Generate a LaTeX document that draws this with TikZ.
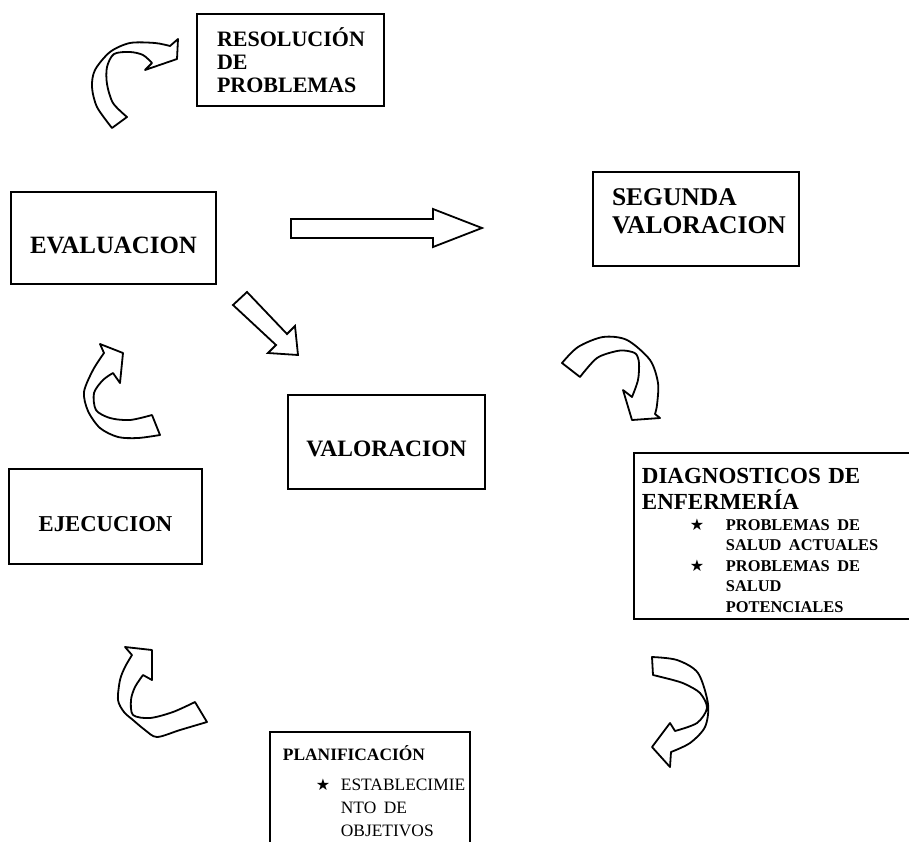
\documentclass[tikz,border=0pt]{standalone}
\usepackage{fontspec}
\setmainfont{Liberation Serif}
\newfontfamily\symfont{DejaVu Sans}
\newcommand{\staritem}[2]{\hspace*{#1}\makebox[\dimexpr#2-#1\relax][l]{\symfont\fontsize{16}{16}\selectfont ★}}

\begin{document}
\begin{tikzpicture}[
    x=1pt, y=-1pt,
    line width=1.8pt,
    box/.style={draw,inner sep=0pt,font=\bfseries\fontsize{22.5}{25}\selectfont},
    lbox/.style={box,align=left},
    blockarr/.style={draw,line join=miter,fill=white},
    curvarr/.style={draw,line join=round,fill=white}]
  \useasboundingbox (0,0) rectangle (909,841);
  \clip (0,0) rectangle (909,841);
  \node[lbox,inner xsep=20pt,text width=147pt,minimum height=92pt,font=\bfseries\fontsize{22}{23}\selectfont] at (290.5,60) (resol) {RESOLUCIÓN\\DE\\PROBLEMAS};
  \node[box,minimum width=205pt,minimum height=92pt,text height=31pt,text depth=0pt,font=\bfseries\fontsize{24.9}{26}\selectfont] at (113.5,238) (eval) {EVALUACION};
  \node[lbox,inner xsep=19pt,text width=168pt,minimum height=94pt,font=\bfseries\fontsize{25.5}{28}\selectfont] at (696,219) (segval) {SEGUNDA\\VALORACION\rule[-16pt]{0pt}{0pt}};
  \node[box,minimum width=197pt,minimum height=94pt,text height=28pt,text depth=0pt,font=\bfseries\fontsize{23.5}{25}\selectfont] at (386.5,442) (val) {VALORACION};
  \node[box,minimum width=193pt,minimum height=95pt,text height=29pt,text depth=0pt,font=\bfseries\fontsize{22.7}{25}\selectfont] at (105.5,516.5) (ejec) {EJECUCION};
  \node[box,anchor=north west,inner xsep=8pt,text width=300pt,minimum height=166pt] at (633,452) (diag) {\noindent\fontsize{16.4}{20.5}\selectfont
    \begin{tabular}{@{}l@{}}
      \rule{0pt}{30pt}\fontsize{23}{25}\selectfont DIAGNOSTICOS DE\\
      \fontsize{23}{25}\selectfont ENFERMERÍA\\
      \staritem{48pt}{84pt}PROBLEMAS DE\\
      \hspace*{84pt}SALUD ACTUALES\\
      \staritem{48pt}{84pt}PROBLEMAS DE\\
      \hspace*{84pt}SALUD\\
      \hspace*{84pt}POTENCIALES
    \end{tabular}};
  \node[box,anchor=north west,inner xsep=13pt,text width=174pt,minimum height=124pt] at (269,731) (plan) {\noindent\fontsize{17.4}{23}\selectfont
    \begin{tabular}{@{}l@{}}
      PLANIFICACIÓN\\[7pt]
      \mdseries\staritem{33pt}{58pt}ESTABLECIMIE\\
      \mdseries\hspace*{58pt}NTO DE\\
      \mdseries\hspace*{58pt}OBJETIVOS
    \end{tabular}};
  \draw[blockarr] (291,219) -- (433,219) -- (433,209) -- (482,228) -- (433,247) -- (433,238) -- (291,238) -- cycle;
  \draw[blockarr] (247,292) -- (287,334) -- (295,326) -- (298,355) -- (268,353) -- (276,345) -- (233,305) -- cycle;
  \draw[curvarr] plot[smooth] coordinates {(112,128) (97,107) (92,87) (95,70) (110,52) (130,43) (155,43) (170,46)} -- (178,39) -- (177,59) -- (145,70) -- (152,63) -- plot[smooth] coordinates {(152,63) (143,55) (130,52) (114,54) (107,67) (107,84) (113,103) (127,117)} -- cycle;
  \draw[curvarr] plot[smooth] coordinates {(104,353) (93,370) (84,392) (88,411) (100,428) (118,437) (138,438) (160,435)} -- (152,415) -- plot[smooth] coordinates {(152,415) (130,420) (110,418) (96,410) (94,393) (103,380) (113,373)} -- (120,383) -- (123,353) -- (100,344) -- cycle;
  \draw[curvarr] plot[smooth] coordinates {(562,363) (578,347) (603,337) (627,340) (650,360) (658,383) (657,405) (655,414)} -- (660,418) -- (632,420) -- (623,390) -- (632,397) -- plot[smooth] coordinates {(632,397) (638,380) (639,363) (636,354) (628,351) (617,351) (597,358) (580,377)} -- cycle;
  \draw[curvarr] plot[smooth] coordinates {(652,657) (677,660) (698,673) (708,704) (705,727) (690,743) (671,752)} -- (670,767) -- (652,747) -- (670,723) -- (675,731) -- plot[smooth] coordinates {(675,731) (697,723) (707,708) (700,693) (685,684) (673,680) (653,675)} -- cycle;
  \draw[curvarr] plot[smooth] coordinates {(132,655) (125,667) (120,680) (118,700) (124,712) (133,720) (145,730) (157,737) (180,730) (207,722)} -- (195,702) -- plot[smooth] coordinates {(195,702) (173,712) (150,718) (133,715) (131,700) (135,687) (143,675)} -- (152,680) -- (152,650) -- (125,647) -- cycle;
\end{tikzpicture}
\end{document}
